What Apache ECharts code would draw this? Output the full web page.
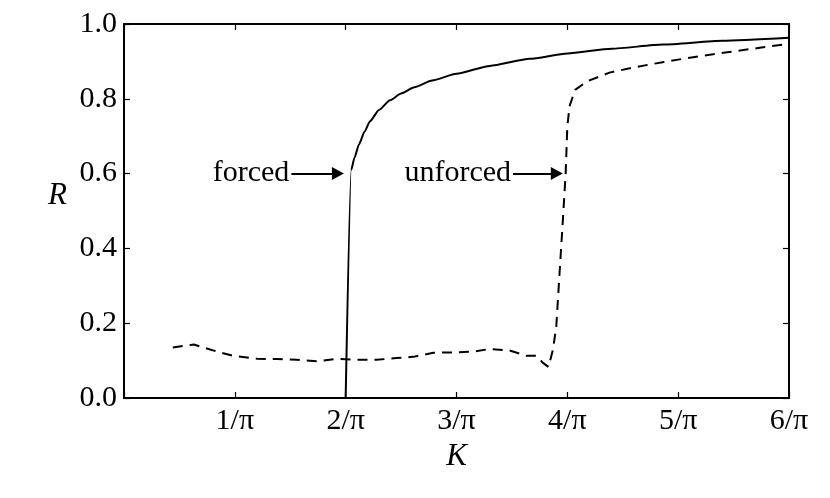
<!DOCTYPE html>
<html>
<head>
<meta charset="utf-8">
<script src="https://cdn.jsdelivr.net/npm/echarts@6/dist/echarts.min.js"></script>
<style>
  html, body { margin: 0; padding: 0; background: #fff; }
  #chart { width: 830px; height: 498px; }
</style>
</head>
<body>
<div id="chart"></div>
<script>
// K in units of 1/pi
const forcedK = [2.0, 2.05, 2.08, 2.12, 2.17, 2.22, 2.30, 2.40, 2.50, 2.62, 2.78, 3.0, 3.3, 3.66, 4.0, 4.4, 4.86, 5.4, 6.0];
const forcedR = [0.0, 0.610, 0.643, 0.678, 0.712, 0.740, 0.770, 0.796, 0.814, 0.831, 0.849, 0.867, 0.888, 0.907, 0.921, 0.934, 0.945, 0.955, 0.963];

const unforcedK = [0.44, 0.63, 0.84, 0.98, 1.20, 1.38, 1.56, 1.74, 1.92, 2.10, 2.28, 2.46, 2.61, 2.79, 2.97,
  3.15, 3.30, 3.48, 3.63, 3.72, 3.78, 3.83, 3.87, 3.90, 3.93, 3.96, 3.985, 4.0, 4.02, 4.07, 4.18, 4.38, 4.60, 4.86, 5.15, 5.46, 5.75, 6.0];
const unforcedR = [0.135, 0.143, 0.124, 0.113, 0.105, 0.104, 0.102, 0.098, 0.105, 0.102, 0.102, 0.107, 0.110, 0.121, 0.122,
  0.124, 0.131, 0.127, 0.113, 0.113, 0.094, 0.083, 0.129, 0.19, 0.335, 0.477, 0.602, 0.726, 0.78, 0.824, 0.847, 0.870, 0.884, 0.898, 0.912, 0.925, 0.937, 0.947];

const xTicks = [0, 1, 2, 3, 4, 5, 6];
const yTicks = [0, 0.2, 0.4, 0.6, 0.8, 1.0];

// annotations: [label, arrow start K, arrow end K, R]
const notes = [
  ['forced', 1.51, 1.93, 0.6],
  ['unforced', 3.51, 3.905, 0.6]
];

const FONT = "'Liberation Serif', 'DejaVu Serif', serif";

function zip(a, b) { return a.map((v, i) => [v, b[i]]); }

const tickStyle = { show: true, inside: true, length: 6, lineStyle: { color: '#000', width: 1.2 } };
const lineStyleAxis = { show: true, onZero: false, lineStyle: { color: '#000', width: 2 } };

const chart = echarts.init(document.getElementById('chart'), null, { renderer: 'canvas' });
chart.setOption({
  animation: false,
  backgroundColor: '#fff',
  grid: { left: 124, right: 41, top: 24, bottom: 100 },
  xAxis: [{
    type: 'value', min: xTicks[0], max: xTicks[xTicks.length - 1], interval: 1,
    axisLine: lineStyleAxis, axisTick: tickStyle, splitLine: { show: false },
    axisLabel: {
      color: '#000', fontFamily: FONT, fontSize: 30, margin: 8,
      formatter: v => v === 0 ? '' : v + '/π'
    },
    name: 'K', nameLocation: 'middle', nameGap: 21,
    nameTextStyle: { color: '#000', fontFamily: FONT, fontSize: 31, fontStyle: 'italic' }
  }, {
    type: 'value', position: 'top', min: 0, max: 6, interval: 1,
    axisLine: lineStyleAxis, axisTick: tickStyle, axisLabel: { show: false }, splitLine: { show: false }
  }],
  yAxis: [{
    type: 'value', min: yTicks[0], max: yTicks[yTicks.length - 1], interval: 0.2,
    axisLine: lineStyleAxis, axisTick: tickStyle, splitLine: { show: false },
    axisLabel: { color: '#000', fontFamily: FONT, fontSize: 30, margin: 7, formatter: v => v.toFixed(1) },
    name: 'R', nameLocation: 'middle', nameGap: 57, nameRotate: 0,
    nameTextStyle: { color: '#000', fontFamily: FONT, fontSize: 31, fontStyle: 'italic', verticalAlign: 'bottom' }
  }, {
    type: 'value', position: 'right', min: 0, max: 1, interval: 0.2,
    axisLine: lineStyleAxis, axisTick: tickStyle, axisLabel: { show: false }, splitLine: { show: false }
  }],
  series: [{
    name: 'forced', type: 'line', data: zip(forcedK, forcedR),
    showSymbol: false, symbol: 'none', smooth: 0.2, smoothMonotone: 'x',
    lineStyle: { color: '#000', width: 2 },
    markLine: {
      silent: true, animation: false,
      symbol: ['none', 'triangle'], symbolSize: [13, 12],
      lineStyle: { color: '#000', width: 2, type: 'solid' },
      label: { show: true, position: 'start', distance: 2, color: '#000', fontFamily: FONT, fontSize: 30 },
      data: notes.map(n => [
        { coord: [n[1], n[3]], label: { formatter: n[0] } },
        { coord: [n[2], n[3]] }
      ])
    }
  }, {
    name: 'unforced', type: 'line', data: zip(unforcedK, unforcedR),
    showSymbol: false, symbol: 'none',
    lineStyle: { color: '#000', width: 2, type: [10, 7] }
  }]
});
</script>
</body>
</html>
